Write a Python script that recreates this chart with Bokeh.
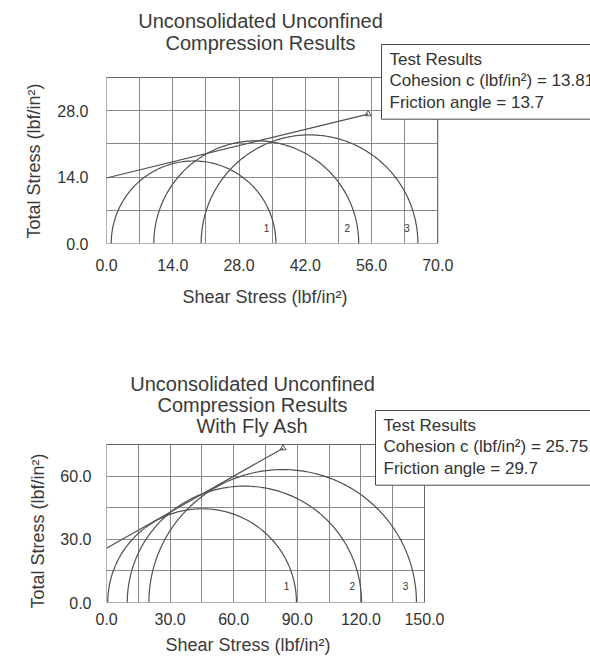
import numpy as np
from bokeh.plotting import figure
from bokeh.layouts import column
from bokeh.models import Label, Range1d, FixedTicker, PrintfTickFormatter, Title
from bokeh.embed import file_html
from bokeh.resources import INLINE

FONT = "Liberation Sans"

# --- Test 1: untreated soil ---
plain_sigma3 = [1.0, 10.0, 20.0]
plain_sigma1 = [35.8, 53.3, 65.8]
plain_cohesion = 13.81
plain_phi = 13.7
plain_env_end = 55.3
plain_xlim = (0, 70)
plain_ylim = (0, 35)
plain_xticks = [0, 14, 28, 42, 56, 70]
plain_xminor = [7, 21, 35, 49, 63]
plain_yticks = [0, 14, 28]
plain_yminor = [7, 21, 35]
plain_label_pos = [(33.8, 3.2), (50.9, 3.2), (63.5, 3.2)]

# --- Test 2: soil with fly ash ---
ash_sigma3 = [0.6, 9.8, 20.0]
ash_sigma1 = [89.6, 120.3, 146.2]
ash_cohesion = 25.75
ash_phi = 29.7
ash_env_end = 83.3
ash_xlim = (0, 150)
ash_ylim = (0, 75)
ash_xticks = [0, 30, 60, 90, 120, 150]
ash_xminor = [15, 45, 75, 105, 135]
ash_yticks = [0, 30, 60]
ash_yminor = [15, 45, 75]
ash_label_pos = [(84.9, 7.6), (115.9, 7.6), (141.0, 7.6)]

circle_ids = ["1", "2", "3"]
x_title = "Shear Stress (lbf/in²)"
y_title = "Total Stress (lbf/in²)"

GRID = "#8a8a8a"
INK = "#505050"
TEXT = "#3a3a3a"
W = 590


def mohr_chart(height, left, bottom, plot_w, plot_h, xlim, ylim,
               xticks, xminor, yticks, yminor, std, title_off):
    # The frame reaches the top and right edges of the canvas so that the
    # heading and the results box can sit inside it; the plotting area
    # itself is the xlim x ylim window of plot_w x plot_h pixels.
    fw = W - left
    fh = height - bottom
    xmax = xlim[0] + (xlim[1] - xlim[0]) * fw / plot_w
    ymax = ylim[0] + (ylim[1] - ylim[0]) * fh / plot_h
    p = figure(width=W, height=height, output_backend="svg",
               toolbar_location=None,
               x_range=Range1d(xlim[0], xmax), y_range=Range1d(ylim[0], ymax),
               min_border_left=left, min_border_right=0,
               min_border_top=0, min_border_bottom=bottom,
               background_fill_color="white", border_fill_color="white",
               outline_line_color=None)
    p.xaxis.ticker = FixedTicker(ticks=xticks, minor_ticks=xminor)
    p.yaxis.ticker = FixedTicker(ticks=yticks, minor_ticks=yminor)
    p.xaxis.bounds = xlim
    p.yaxis.bounds = ylim
    for ax in (p.xaxis, p.yaxis):
        ax.formatter = PrintfTickFormatter(format="%.1f")
        ax.axis_line_color = None
        ax.major_tick_line_color = None
        ax.minor_tick_line_color = None
        ax.major_tick_out = 0
        ax.major_tick_in = 0
        ax.minor_tick_out = 0
        ax.major_label_text_font = FONT
        ax.major_label_text_font_size = "16px"
        ax.major_label_text_color = "#333333"
    p.xaxis.major_label_standoff = std[0]
    p.yaxis.major_label_standoff = std[2]

    # grid restricted to the plotting window
    grid_ok = True
    for g, b, cb in ((p.xgrid[0], xlim, ylim), (p.ygrid[0], ylim, xlim)):
        g.grid_line_color = GRID
        g.grid_line_width = 1
        g.minor_grid_line_color = GRID
        g.minor_grid_line_width = 1
        g.bounds = b
        try:
            g.cross_bounds = cb
        except AttributeError:
            grid_ok = False
    if not grid_ok:
        p.xgrid.visible = False
        p.ygrid.visible = False
        gx = sorted(set(xticks + xminor))
        gy = sorted(set(yticks + yminor))
        p.segment(x0=gx, y0=[ylim[0]] * len(gx), x1=gx, y1=[ylim[1]] * len(gx),
                  line_color=GRID, line_width=1)
        p.segment(x0=[xlim[0]] * len(gy), y0=gy, x1=[xlim[1]] * len(gy), y1=gy,
                  line_color=GRID, line_width=1)

    p.quad(left=[xlim[0]], right=[xlim[1]], bottom=[ylim[0]], top=[ylim[1]],
           fill_color=None, line_color="#666666", line_width=1)

    # axis titles, placed relative to the plotting window
    p.add_layout(Title(text=x_title, align="left", offset=title_off[0],
                       standoff=std[1], text_font=FONT, text_font_size="18px",
                       text_font_style="normal", text_color=TEXT), "below")
    p.add_layout(Title(text=y_title, align="left", offset=title_off[1],
                       standoff=std[3], text_font=FONT, text_font_size="18px",
                       text_font_style="normal", text_color=TEXT), "left")
    return p


def draw_mohr(p, s3, s1, c, phi, xend, label_pos):
    t = np.linspace(0, np.pi, 181)
    for a, b in zip(s3, s1):
        ctr, r = (a + b) / 2.0, (b - a) / 2.0
        p.line(ctr + r * np.cos(t), r * np.sin(t), line_color=INK, line_width=1.2)
    yend = c + np.tan(np.radians(phi)) * xend
    p.line([0, xend], [c, yend], line_color=INK, line_width=1.2)
    p.scatter([xend], [yend], marker="triangle", size=6, fill_color=None,
              line_color=INK, line_width=1)
    for lbl, (lx, ly) in zip(circle_ids, label_pos):
        p.add_layout(Label(x=lx, y=ly, text=lbl, text_font=FONT,
                           text_font_size="10px", text_color="#333333",
                           text_align="center", text_baseline="middle"))


def add_text(p, lines, offsets, box_text, box_offset):
    # offsets are in pixels from the plotting window's bottom-left corner
    for ln, (dx, dy) in zip(lines, offsets):
        p.add_layout(Label(x=0, y=0, x_offset=dx, y_offset=dy, text=ln,
                           text_font=FONT, text_font_size="20px",
                           text_color=TEXT, text_align="center",
                           text_baseline="middle"))
    p.add_layout(Label(x=0, y=0, x_offset=box_offset[0], y_offset=box_offset[1],
                       text=box_text, text_font=FONT, text_font_size="17px",
                       text_color="#333333", text_align="left", text_baseline="top",
                       text_line_height=1.15,
                       background_fill_color="white", border_line_color="#4a4a4a",
                       border_line_width=1,
                       padding=dict(left=8, right=30, top=5, bottom=7)))


# top chart
p1 = mohr_chart(320, 102, 77, 334, 166, plain_xlim, plain_ylim,
                plain_xticks, plain_xminor, plain_yticks, plain_yminor,
                (15, 22, 18, 22), (76, 5))
draw_mohr(p1, plain_sigma3, plain_sigma1, plain_cohesion, plain_phi,
          plain_env_end, plain_label_pos)
add_text(p1, ["Unconsolidated Unconfined", "Compression Results"],
         [(154, 223), (154, 201)],
         "Test Results\nCohesion c (lbf/in²) = %.2f\nFriction angle = %.1f"
         % (plain_cohesion, plain_phi),
         (275, 199))

# bottom chart
p2 = mohr_chart(341, 106, 59, 318, 158, ash_xlim, ash_ylim,
                ash_xticks, ash_xminor, ash_yticks, ash_yminor,
                (10, 10, 15, 19), (59, -6))
draw_mohr(p2, ash_sigma3, ash_sigma1, ash_cohesion, ash_phi,
          ash_env_end, ash_label_pos)
add_text(p2, ["Unconsolidated Unconfined", "Compression Results", "With Fly Ash"],
         [(146, 219), (146, 198), (146, 177)],
         "Test Results\nCohesion c (lbf/in²) = %.2f\nFriction angle = %.1f"
         % (ash_cohesion, ash_phi),
         (269, 192))

p = column(p1, p2)
open("out.html", "w").write(file_html(p, INLINE))
